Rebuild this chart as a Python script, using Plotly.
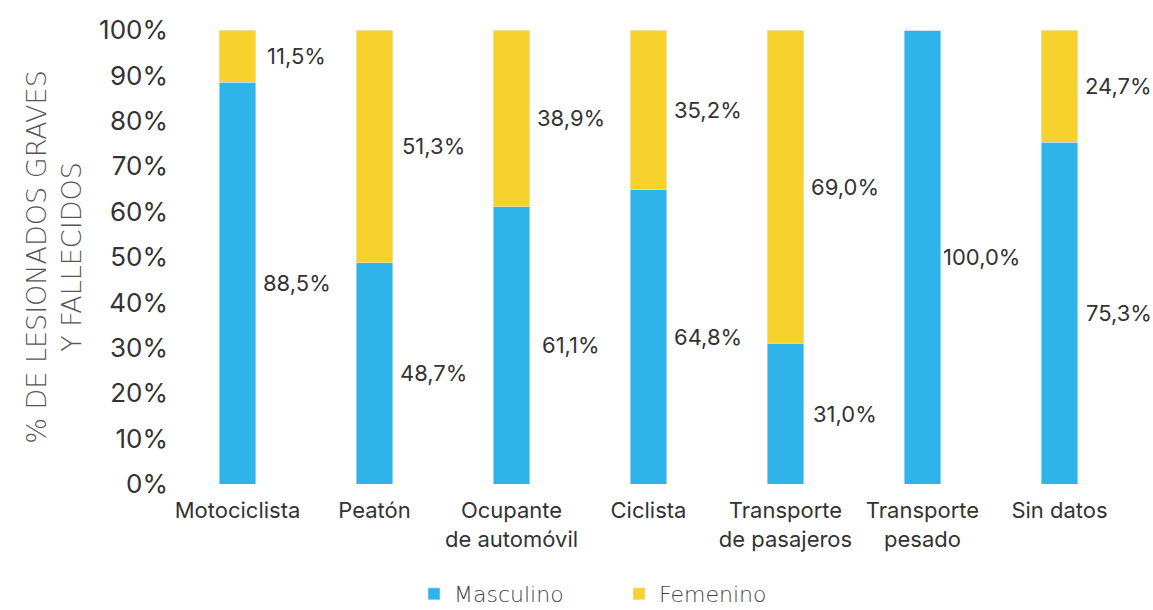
import plotly.graph_objects as go

categories = ["Motociclista", "Peatón", "Ocupante<br>de automóvil", "Ciclista",
              "Transporte<br>de pasajeros", "Transporte<br>pesado", "Sin datos"]
masculino = [88.5, 48.7, 61.1, 64.8, 31.0, 100.0, 75.3]
femenino = [11.5, 51.3, 38.9, 35.2, 69.0, 0.0, 24.7]
y_ticks = [0, 10, 20, 30, 40, 50, 60, 70, 80, 90, 100]

BLUE = "#2EB4E9"
YELLOW = "#F7D12C"
TXT = "#333333"
FONT = "Inter"

fig = go.Figure()
fig.add_trace(go.Bar(x=categories, y=masculino, name="Masculino", marker_color=BLUE))
fig.add_trace(go.Bar(x=categories, y=femenino, name="Femenino", marker_color=YELLOW))

def fmt(v):
    return f"{v:.1f}".replace(".", ",") + "%"

for c, m, f in zip(categories, masculino, femenino):
    if m > 0:
        fig.add_annotation(x=c, y=m / 2, text=fmt(m), showarrow=False, xshift=59,
                           font=dict(size=22, color=TXT, family=FONT))
    if f > 0:
        fig.add_annotation(x=c, y=m + f / 2, text=fmt(f), showarrow=False, xshift=59,
                           font=dict(size=22, color=TXT, family=FONT))

fig.update_layout(
    barmode="stack",
    bargap=0.735,
    width=1153, height=610,
    margin=dict(l=169, r=25, t=30, b=126, autoexpand=False),
    paper_bgcolor="white", plot_bgcolor="white",
    font=dict(family=FONT, color=TXT),
    showlegend=True,
    legend=dict(orientation="h", x=0.2555, xanchor="left", y=16 / 610, yref="container",
                yanchor="middle", font=dict(size=22, color="#444444", family="DejaVu Sans",
                                            weight=300),
                itemwidth=30, entrywidth=160, entrywidthmode="pixels",
                traceorder="normal"),
    xaxis=dict(tickfont=dict(size=22, color=TXT), showgrid=False, showline=False,
               ticks="", automargin=False, ticklabelstandoff=11,
               range=[-0.5, len(categories) - 0.5], fixedrange=True),
    yaxis=dict(range=[0, 100], tickvals=y_ticks, ticktext=[f"{v}%" for v in y_ticks],
               tickfont=dict(size=26, color=TXT), showgrid=False, zeroline=False,
               showline=False, ticks="", automargin=False, fixedrange=True,
               title=dict(text="% DE LESIONADOS GRAVES<br>Y FALLECIDOS",
                          font=dict(size=27, color="#555555", family="DejaVu Sans",
                                    weight=300),
                          standoff=9)),
)

fig.write_html("out.html", config={"displayModeBar": False},
               post_script="document.body.style.margin='0';document.body.style.overflow='hidden';")
